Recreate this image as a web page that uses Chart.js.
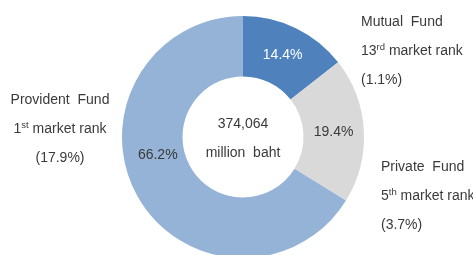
<!DOCTYPE html>
<html>
<head>
<meta charset="utf-8">
<script src="https://cdn.jsdelivr.net/npm/chart.js@4/dist/chart.umd.min.js"></script>
<style>
  html, body { margin: 0; padding: 0; background: #fff; overflow: hidden; }
  #wrap { width: 473px; height: 262px; }
</style>
</head>
<body>
<div id="wrap"><canvas id="chart" width="473" height="262"></canvas></div>
<script>
// values
const categories = ["Mutual Fund", "Private Fund", "Provident Fund"];
const shares = [14.4, 19.4, 66.2];
const rankNumbers = ["13", "5", "1"];
const rankSuffixes = ["rd", "th", "st"];
const marketShares = ["(1.1%)", "(3.7%)", "(17.9%)"];
const centerLines = ["374,064", "million  baht"];

const colors = ["#4f81bd", "#d9d9d9", "#95b3d7"];
const labelColors = ["#ffffff", "#3a3a3a", "#3a3a3a"];
const labelShift = [[0, 0], [0, 0], [-6, -26]];
// where each category's side note goes
const notePlaces = [
  { x: 361, y: 22, align: "left" },
  { x: 381, y: 167, align: "left" },
  { x: 60, y: 100, align: "center" }
];
const FONT = "'Liberation Sans', Arial, sans-serif";

function drawLine(ctx, parts, x, y, align) {
  let w = 0;
  parts.forEach(p => {
    ctx.font = p.size + "px " + FONT;
    w += ctx.measureText(p.text).width;
  });
  let cx = x;
  if (align == "center") cx = x - w / 2;
  if (align == "right") cx = x - w;
  ctx.textAlign = "left";
  parts.forEach(p => {
    ctx.font = p.size + "px " + FONT;
    ctx.fillText(p.text, cx, y + (p.rise || 0));
    cx += ctx.measureText(p.text).width;
  });
}

const labelsPlugin = {
  id: "labels",
  afterDraw(chart) {
    const ctx = chart.ctx;
    const meta = chart.getDatasetMeta(0);
    ctx.save();
    ctx.textBaseline = "middle";

    // percentages on the ring
    meta.data.forEach((arc, i) => {
      const c = arc.getCenterPoint();
      ctx.fillStyle = labelColors[i];
      ctx.font = "14px " + FONT;
      ctx.textAlign = "center";
      ctx.fillText(shares[i].toFixed(1) + "%", c.x + labelShift[i][0], c.y + labelShift[i][1]);
    });

    // total in the hole
    const arc0 = meta.data[0];
    ctx.fillStyle = "#3a3a3a";
    ctx.font = "14px " + FONT;
    ctx.textAlign = "center";
    ctx.fillText(centerLines[0], arc0.x, arc0.y - 13);
    ctx.fillText(centerLines[1], arc0.x, arc0.y + 16);

    // side notes
    ctx.fillStyle = "#3a3a3a";
    categories.forEach((name, i) => {
      const p = notePlaces[i];
      drawLine(ctx, [{ text: name.replace(" ", "  "), size: 14 }], p.x, p.y, p.align);
      drawLine(ctx, [
        { text: rankNumbers[i], size: 14 },
        { text: rankSuffixes[i], size: 9.5, rise: -4 },
        { text: " market rank", size: 14 }
      ], p.x, p.y + 29, p.align);
      drawLine(ctx, [{ text: marketShares[i], size: 14 }], p.x, p.y + 58, p.align);
    });
    ctx.restore();
  }
};

new Chart(document.getElementById("chart"), {
  type: "doughnut",
  data: {
    labels: categories,
    datasets: [{
      data: shares,
      backgroundColor: colors,
      borderWidth: 0,
      hoverOffset: 0
    }]
  },
  options: {
    responsive: false,
    animation: false,
    cutout: "50%",
    layout: { padding: { left: 122, right: 109, top: 16, bottom: 4 } },
    plugins: {
      legend: { display: false },
      tooltip: { enabled: false }
    }
  },
  plugins: [labelsPlugin]
});
</script>
</body>
</html>
